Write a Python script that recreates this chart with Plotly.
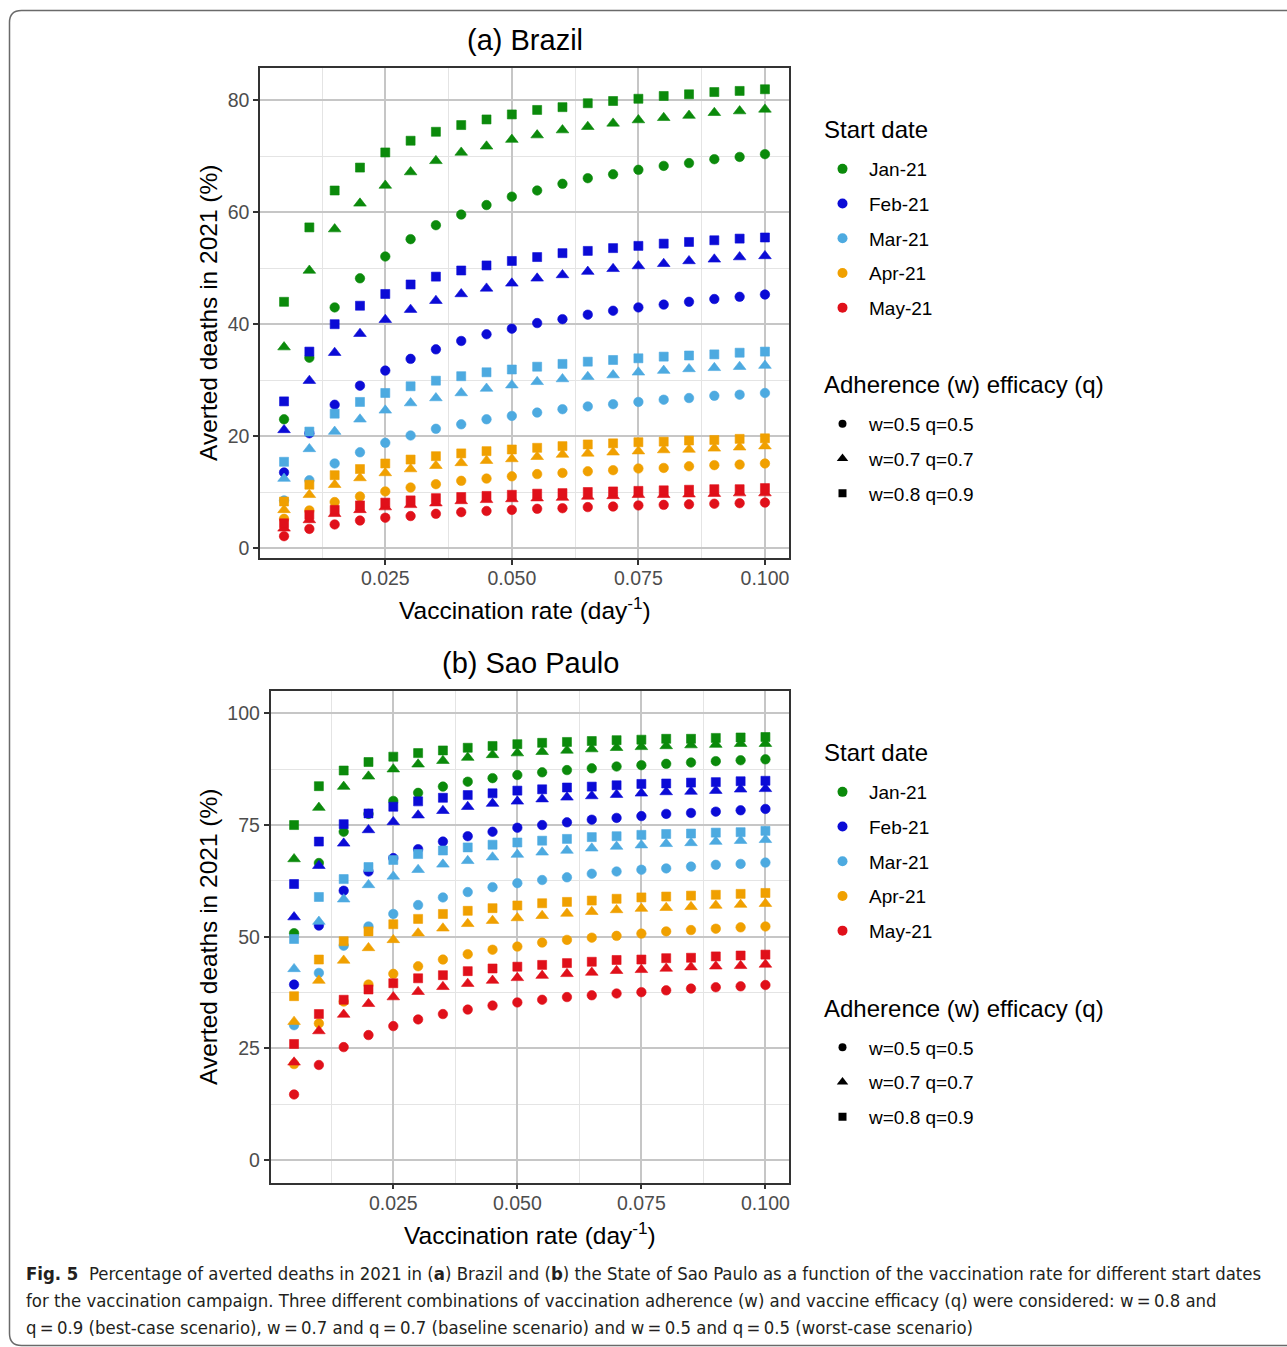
import plotly.graph_objects as go

W, H = 1287, 1347

vaccination_rate = [0.005, 0.010, 0.015, 0.020, 0.025, 0.030, 0.035, 0.040, 0.045, 0.050,
                    0.055, 0.060, 0.065, 0.070, 0.075, 0.080, 0.085, 0.090, 0.095, 0.100]

start_dates = ["Jan-21", "Feb-21", "Mar-21", "Apr-21", "May-21"]
scenarios = ["w=0.5 q=0.5", "w=0.7 q=0.7", "w=0.8 q=0.9"]

# ---------------- (a) Brazil ----------------
br_jan_w05 = [23.0, 34.0, 43.0, 48.2, 52.1, 55.2, 57.7, 59.6, 61.3, 62.8, 63.9, 65.1, 66.1, 66.8, 67.6, 68.3, 68.8, 69.5, 69.9, 70.4]
br_jan_w07 = [35.9, 49.6, 57.0, 61.6, 64.8, 67.2, 69.2, 70.7, 71.8, 73.0, 73.8, 74.7, 75.3, 75.9, 76.5, 76.9, 77.3, 77.8, 78.1, 78.4]
br_jan_w08 = [44.0, 57.3, 63.9, 68.0, 70.7, 72.8, 74.4, 75.6, 76.6, 77.5, 78.3, 78.8, 79.5, 79.9, 80.3, 80.8, 81.1, 81.5, 81.7, 82.0]

br_feb_w05 = [13.5, 20.5, 25.6, 29.0, 31.7, 33.8, 35.5, 37.0, 38.2, 39.2, 40.2, 40.9, 41.7, 42.4, 43.0, 43.5, 44.0, 44.5, 44.9, 45.3]
br_feb_w07 = [21.1, 29.9, 34.9, 38.3, 40.8, 42.6, 44.2, 45.4, 46.4, 47.3, 48.2, 48.8, 49.4, 49.9, 50.4, 50.8, 51.3, 51.6, 52.0, 52.2]
br_feb_w08 = [26.2, 35.1, 40.0, 43.3, 45.4, 47.1, 48.5, 49.6, 50.5, 51.3, 52.0, 52.7, 53.1, 53.6, 54.0, 54.4, 54.7, 55.0, 55.3, 55.5]

br_mar_w05 = [8.5, 12.1, 15.1, 17.1, 18.8, 20.1, 21.3, 22.1, 23.0, 23.6, 24.2, 24.8, 25.3, 25.7, 26.1, 26.5, 26.8, 27.2, 27.4, 27.7]
br_mar_w07 = [12.4, 17.7, 20.8, 23.0, 24.6, 25.9, 26.8, 27.7, 28.5, 29.1, 29.7, 30.2, 30.6, 30.9, 31.4, 31.7, 32.0, 32.2, 32.4, 32.6]
br_mar_w08 = [15.4, 20.8, 24.0, 26.1, 27.7, 28.9, 29.9, 30.7, 31.4, 31.9, 32.4, 32.9, 33.3, 33.6, 33.9, 34.2, 34.4, 34.6, 34.9, 35.1]

br_apr_w05 = [5.2, 6.7, 8.2, 9.2, 10.1, 10.8, 11.4, 12.0, 12.4, 12.8, 13.2, 13.4, 13.7, 13.9, 14.2, 14.3, 14.6, 14.8, 14.9, 15.1]
br_apr_w07 = [6.8, 9.5, 11.3, 12.5, 13.4, 14.1, 14.7, 15.2, 15.6, 15.9, 16.3, 16.7, 16.9, 17.1, 17.3, 17.5, 17.6, 17.8, 18.0, 18.2]
br_apr_w08 = [8.3, 11.3, 13.0, 14.1, 15.1, 15.8, 16.4, 16.9, 17.3, 17.6, 17.9, 18.2, 18.5, 18.7, 18.9, 19.0, 19.2, 19.3, 19.5, 19.6]

br_may_w05 = [2.1, 3.4, 4.2, 4.9, 5.4, 5.7, 6.1, 6.4, 6.6, 6.8, 7.0, 7.1, 7.3, 7.4, 7.6, 7.7, 7.8, 7.9, 8.0, 8.1]
br_may_w07 = [3.5, 5.0, 6.1, 6.8, 7.3, 7.7, 8.0, 8.4, 8.6, 8.75, 8.9, 9.0, 9.2, 9.3, 9.5, 9.5, 9.6, 9.7, 9.8, 9.8]
br_may_w08 = [4.4, 5.9, 6.8, 7.6, 8.1, 8.5, 8.9, 9.1, 9.3, 9.5, 9.7, 9.8, 10.0, 10.1, 10.2, 10.3, 10.4, 10.5, 10.5, 10.7]

# ---------------- (b) Sao Paulo ----------------
sp_jan_w05 = [50.8, 66.5, 73.5, 77.5, 80.4, 82.2, 83.6, 84.7, 85.5, 86.2, 86.8, 87.3, 87.7, 88.1, 88.4, 88.7, 89.0, 89.3, 89.5, 89.7]
sp_jan_w07 = [67.4, 78.9, 83.6, 85.9, 87.5, 88.6, 89.4, 90.1, 90.7, 91.1, 91.4, 91.7, 92.0, 92.3, 92.5, 92.7, 92.9, 93.0, 93.2, 93.2]
sp_jan_w08 = [75.0, 83.7, 87.2, 89.1, 90.3, 91.1, 91.7, 92.3, 92.7, 93.1, 93.4, 93.6, 93.8, 94.0, 94.1, 94.3, 94.3, 94.5, 94.6, 94.7]

sp_feb_w05 = [39.3, 52.5, 60.3, 64.6, 67.6, 69.6, 71.3, 72.5, 73.5, 74.4, 75.0, 75.6, 76.2, 76.6, 77.0, 77.5, 77.7, 78.0, 78.3, 78.6]
sp_feb_w07 = [54.4, 65.9, 70.9, 73.9, 75.7, 77.2, 78.2, 79.1, 79.8, 80.3, 80.8, 81.2, 81.5, 81.8, 82.1, 82.4, 82.5, 82.7, 83.0, 83.1]
sp_feb_w08 = [61.8, 71.3, 75.2, 77.6, 79.1, 80.3, 81.1, 81.7, 82.1, 82.7, 83.0, 83.4, 83.6, 83.9, 84.2, 84.3, 84.5, 84.6, 84.8, 84.9]

sp_mar_w05 = [30.2, 41.9, 48.0, 52.3, 55.1, 57.1, 58.8, 60.0, 61.1, 62.0, 62.7, 63.3, 64.1, 64.6, 65.0, 65.3, 65.7, 66.1, 66.3, 66.6]
sp_mar_w07 = [42.8, 53.4, 58.4, 61.6, 63.5, 65.0, 66.2, 67.0, 67.8, 68.4, 68.9, 69.3, 69.8, 70.2, 70.5, 70.8, 71.0, 71.3, 71.5, 71.7]
sp_mar_w08 = [49.5, 58.9, 62.9, 65.6, 67.2, 68.5, 69.3, 70.0, 70.6, 71.1, 71.5, 71.9, 72.3, 72.5, 72.8, 73.0, 73.1, 73.3, 73.4, 73.7]

sp_apr_w05 = [21.5, 30.6, 35.5, 39.3, 41.7, 43.4, 44.9, 46.1, 47.1, 47.8, 48.7, 49.3, 49.8, 50.2, 50.7, 51.2, 51.5, 51.8, 52.1, 52.3]
sp_apr_w07 = [31.0, 40.2, 44.7, 47.5, 49.3, 50.8, 51.9, 52.9, 53.6, 54.2, 54.7, 55.2, 55.6, 56.0, 56.3, 56.5, 56.7, 57.0, 57.2, 57.4]
sp_apr_w08 = [36.7, 44.9, 49.0, 51.2, 52.8, 54.0, 55.1, 55.8, 56.4, 57.0, 57.5, 57.8, 58.1, 58.5, 58.8, 59.0, 59.2, 59.4, 59.6, 59.8]

sp_may_w05 = [14.7, 21.3, 25.3, 28.0, 30.0, 31.5, 32.7, 33.7, 34.6, 35.3, 35.9, 36.5, 36.9, 37.3, 37.6, 38.0, 38.4, 38.7, 38.9, 39.2]
sp_may_w07 = [21.9, 28.9, 32.6, 35.0, 36.5, 37.7, 38.8, 39.5, 40.2, 40.8, 41.3, 41.7, 42.0, 42.4, 42.6, 42.9, 43.2, 43.4, 43.5, 43.8]
sp_may_w08 = [26.0, 32.7, 35.9, 38.2, 39.6, 40.7, 41.4, 42.3, 42.9, 43.3, 43.7, 44.1, 44.4, 44.8, 44.9, 45.2, 45.3, 45.6, 45.8, 46.0]

brazil = [[br_jan_w05, br_jan_w07, br_jan_w08],
          [br_feb_w05, br_feb_w07, br_feb_w08],
          [br_mar_w05, br_mar_w07, br_mar_w08],
          [br_apr_w05, br_apr_w07, br_apr_w08],
          [br_may_w05, br_may_w07, br_may_w08]]
sao_paulo = [[sp_jan_w05, sp_jan_w07, sp_jan_w08],
             [sp_feb_w05, sp_feb_w07, sp_feb_w08],
             [sp_mar_w05, sp_mar_w07, sp_mar_w08],
             [sp_apr_w05, sp_apr_w07, sp_apr_w08],
             [sp_may_w05, sp_may_w07, sp_may_w08]]

# ---------------- styles ----------------
colors = ["#0B8A0B", "#0B0BD6", "#4DAAE0", "#F0A000", "#E0101A"]
symbols = ["circle", "triangle-up", "square"]
sizes = [9.5, 11, 9]
legend_sizes = [8, 10, 8]
FONT = "Liberation Sans, Arial, Helvetica, sans-serif"
CAPFONT = "Liberation Sans Narrow, DejaVu Sans Condensed, Liberation Sans, sans-serif"

def px(x):
    return x / W

def py(y):
    return 1 - y / H

fig = go.Figure()

for panel, (data, xa, ya) in enumerate([(brazil, "x", "y"), (sao_paulo, "x2", "y2")]):
    for ci, per_date in enumerate(data):
        for si, vals in enumerate(per_date):
            fig.add_trace(go.Scatter(
                x=vaccination_rate, y=vals, mode="markers",
                xaxis=xa, yaxis=ya, showlegend=False, hoverinfo="x+y",
                marker=dict(symbol=symbols[si], size=sizes[si], color=colors[ci],
                            line=dict(width=0.6, color=colors[ci]))))

# legend entries (one set per panel)
for lg_dates, lg_scen, xa, ya in [("legend", "legend2", "x", "y"), ("legend3", "legend4", "x2", "y2")]:
    for ci, name in enumerate(start_dates):
        fig.add_trace(go.Scatter(
            x=[None], y=[None], mode="markers", name=name, xaxis=xa, yaxis=ya,
            legend=lg_dates, legendgroup=lg_dates + name,
            marker=dict(symbol="circle", size=10, color=colors[ci])))
    for si, name in enumerate(scenarios):
        fig.add_trace(go.Scatter(
            x=[None], y=[None], mode="markers", name=name, xaxis=xa, yaxis=ya,
            legend=lg_scen, legendgroup=lg_scen + name,
            marker=dict(symbol=symbols[si], size=legend_sizes[si], color="black")))

axis_common = dict(
    showline=True, mirror=True, linecolor="#333333", linewidth=1.5,
    ticks="outside", ticklen=5, tickwidth=1.5, tickcolor="#333333",
    showgrid=True, gridcolor="#c6c6c6", gridwidth=1.7, zeroline=False,
    tickfont=dict(family=FONT, size=19.5, color="#4d4d4d"),
)

x_ticks = [0.025, 0.050, 0.075, 0.100]
x_minor = [0.0125, 0.0375, 0.0625, 0.0875]
br_y_ticks = [0, 20, 40, 60, 80]
br_y_minor = [10, 30, 50, 70]
sp_y_ticks = [0, 25, 50, 75, 100]
sp_y_minor = [12.5, 37.5, 62.5, 87.5]

minor_style = dict(showgrid=True, gridcolor="#e4e4e4", gridwidth=1.2, ticks="")

fig.update_layout(
    width=W, height=H, margin=dict(l=0, r=0, t=0, b=0),
    paper_bgcolor="white", plot_bgcolor="white",
    font=dict(family=FONT, color="black"),
    xaxis=dict(domain=[px(260), px(789)], range=[0.00025, 0.10475], anchor="y",
               tickvals=x_ticks, tickformat=".3f", ticklabelstandoff=-3,
               minor=dict(tickvals=x_minor, **minor_style), **axis_common),
    yaxis=dict(domain=[py(558), py(68)], range=[-1.8, 85.8], anchor="x",
               tickvals=br_y_ticks, minor=dict(tickvals=br_y_minor, **minor_style), **axis_common),
    xaxis2=dict(domain=[px(270.5), px(789)], range=[0.00025, 0.10475], anchor="y2",
                tickvals=x_ticks, tickformat=".3f", ticklabelstandoff=-3,
                minor=dict(tickvals=x_minor, **minor_style), **axis_common),
    yaxis2=dict(domain=[py(1182.5), py(691)], range=[-5, 105], anchor="x2",
                tickvals=sp_y_ticks, minor=dict(tickvals=sp_y_minor, **minor_style), **axis_common),
)

legend_common = dict(
    xanchor="left", yanchor="top", bgcolor="rgba(0,0,0,0)",
    font=dict(family=FONT, size=19, color="black"),
    tracegroupgap=7, itemwidth=43, itemsizing="trace",
)
fig.update_layout(
    legend=dict(x=px(816), y=py(150), **legend_common),
    legend2=dict(x=px(816), y=py(405), **legend_common),
    legend3=dict(x=px(816), y=py(773), **legend_common),
    legend4=dict(x=px(816), y=py(1028.5), **legend_common),
)

TITLE_FONT = dict(family=FONT, size=24, color="black")
annotations = [
    dict(text="(a) Brazil", x=px(524.5), y=py(40), font=dict(family=FONT, size=29, color="black")),
    dict(text="(b) Sao Paulo", x=px(530), y=py(663), font=dict(family=FONT, size=29, color="black")),
    dict(text="Averted deaths in 2021 (%)", x=px(208), y=py(313), textangle=-90,
         font=dict(family=FONT, size=24.5, color="black")),
    dict(text="Averted deaths in 2021 (%)", x=px(208), y=py(937), textangle=-90,
         font=dict(family=FONT, size=24.5, color="black")),
    dict(text="Vaccination rate (day<sup>-1</sup>)", x=px(524.5), y=py(608),
         font=dict(family=FONT, size=24.5, color="black")),
    dict(text="Vaccination rate (day<sup>-1</sup>)", x=px(530), y=py(1233),
         font=dict(family=FONT, size=24.5, color="black")),
    dict(text="Start date", x=px(822), y=py(130), xanchor="left", font=TITLE_FONT),
    dict(text="Adherence (w) efficacy (q)", x=px(822), y=py(384), xanchor="left", font=TITLE_FONT),
    dict(text="Start date", x=px(822), y=py(753), xanchor="left", font=TITLE_FONT),
    dict(text="Adherence (w) efficacy (q)", x=px(822), y=py(1008), xanchor="left", font=TITLE_FONT),
]
caption_lines = [
    "<b>Fig. 5</b>  Percentage of averted deaths in 2021 in (<b>a</b>) Brazil and (<b>b</b>) the State of Sao Paulo as a function of the vaccination rate for different start dates",
    "for the vaccination campaign. Three different combinations of vaccination adherence (w) and vaccine efficacy (q) were considered: w\u2009=\u20090.8 and",
    "q\u2009=\u20090.9 (best-case scenario), w\u2009=\u20090.7 and q\u2009=\u20090.7 (baseline scenario) and w\u2009=\u20090.5 and q\u2009=\u20090.5 (worst-case scenario)",
]
for i, line in enumerate(caption_lines):
    annotations.append(dict(text=line, x=px(24), y=py(1273 + 27 * i), xanchor="left",
                            font=dict(family=CAPFONT, size=18.4, color="#231f20")))
for a in annotations:
    a.setdefault("xanchor", "center")
    a.update(xref="paper", yref="paper", yanchor="middle", showarrow=False)
fig.update_layout(annotations=annotations)

# outer rounded frame
x0, y0, r = 9.5, 10.5, 12
ybot = 1345.5
path = (f"M {px(W + 5)},{py(y0)} L {px(x0 + r)},{py(y0)} "
        f"Q {px(x0)},{py(y0)} {px(x0)},{py(y0 + r)} "
        f"L {px(x0)},{py(ybot - r)} Q {px(x0)},{py(ybot)} {px(x0 + r)},{py(ybot)} "
        f"L {px(W + 5)},{py(ybot)}")
fig.add_shape(type="path", path=path, xref="paper", yref="paper",
              line=dict(color="#6a6a6a", width=1.5))

fig.write_html("out.html")
